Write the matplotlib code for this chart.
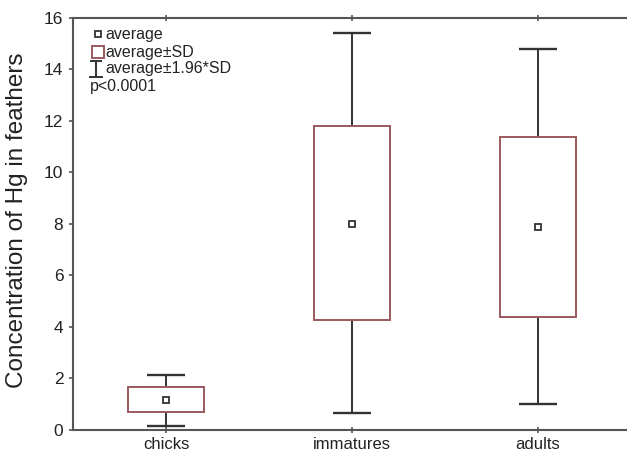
import matplotlib
matplotlib.use("Agg")
import matplotlib.pyplot as plt
from matplotlib.patches import Rectangle

# values
groups = ["chicks", "immatures", "adults"]
avg = [1.16, 7.98, 7.87]
sd_low = [0.70, 4.26, 4.38]
sd_high = [1.67, 11.78, 11.36]
ci_low = [0.16, 0.66, 1.00]
ci_high = [2.13, 15.39, 14.77]
yticks = [0, 2, 4, 6, 8, 10, 12, 14, 16]
legend_labels = ["average", "average\u00b1SD", "average\u00b11.96*SD"]
p_text = "p<0.0001"

C_BOX = "#9b5a5e"
C_LINE = "#333333"
C_AXIS = "#555555"

plt.rcParams.update({
    "font.family": ["Liberation Sans", "DejaVu Sans"],
    "font.size": 12,
})

W, H = 627, 454
fig = plt.figure(figsize=(W / 100, H / 100), dpi=100)
ax = fig.add_axes([73 / W, 1 - 430 / H, 558 / W, 412.5 / H])


def fp(x, y):
    """pixel position (top-left origin) -> figure fraction"""
    return x / W, 1 - y / H


box_w = 0.41
cap_w = 0.2
for i in range(len(groups)):
    ax.vlines(i, ci_low[i], sd_low[i], color=C_LINE, lw=1.4, zorder=2)
    ax.vlines(i, sd_high[i], ci_high[i], color=C_LINE, lw=1.4, zorder=2)
    ax.hlines([ci_low[i], ci_high[i]], i - cap_w / 2, i + cap_w / 2,
              color=C_LINE, lw=1.7, zorder=2)
    ax.add_patch(Rectangle((i - box_w / 2, sd_low[i]), box_w,
                           sd_high[i] - sd_low[i], fill=False,
                           edgecolor=C_BOX, lw=1.4, zorder=3))
ax.plot(range(len(groups)), avg, "s", ms=4.5, mfc="white", mec=C_LINE,
        mew=1.3, ls="none", zorder=4)

# legend block (drawn by hand, like the original software)
tf = fig.transFigure
x0, y0 = fp(98, 34)
ax.plot([x0], [y0], "s", ms=4.5, mfc="white", mec=C_LINE, mew=1.3,
        transform=tf, clip_on=False)
bx, by = fp(92, 58)
ax.add_patch(Rectangle((bx, by), 12 / W, 12 / H, fill=False, edgecolor=C_BOX,
                       lw=1.4, transform=tf, clip_on=False))
for (xa, ya), (xb, yb) in [((91, 61), (101, 61)), ((96, 61), (96, 77)),
                           ((90, 77), (102, 77))]:
    (p1x, p1y), (p2x, p2y) = fp(xa, ya), fp(xb, yb)
    ax.plot([p1x, p2x], [p1y, p2y], color=C_LINE, lw=1.4, transform=tf,
            clip_on=False)
for lab, ypx in zip(legend_labels, [34, 52, 69]):
    tx, ty = fp(105, ypx)
    fig.text(tx, ty, lab, fontsize=11.5, va="center", ha="left",
             color="#222222")
tx, ty = fp(90, 87)
fig.text(tx, ty, p_text, fontsize=11.5, va="center", ha="left",
         color="#222222")

ax.set_xlim(-0.5, 2.5)
ax.set_ylim(0, 16)
ax.set_xticks(range(len(groups)))
ax.set_xticklabels(groups, fontsize=12, color="#222222")
ax.set_yticks(yticks)
ax.set_yticklabels([str(v) for v in yticks], fontsize=12.5, color="#222222")
ax.tick_params(axis="y", direction="out", length=3, width=1.2, pad=4,
               color=C_AXIS)
ax.tick_params(axis="x", direction="inout", length=4, width=1.2, pad=3,
               top=True, color=C_AXIS)

ax.set_ylabel("Concentration of Hg in feathers", fontsize=17.5,
              color="#222222")
ax.yaxis.set_label_coords((28 - 73) / 558, (430 - 220) / 412.5)

for sp in ax.spines.values():
    sp.set_color(C_AXIS)
    sp.set_linewidth(1.5)

fig.savefig("out.png", dpi=100, facecolor="white")
